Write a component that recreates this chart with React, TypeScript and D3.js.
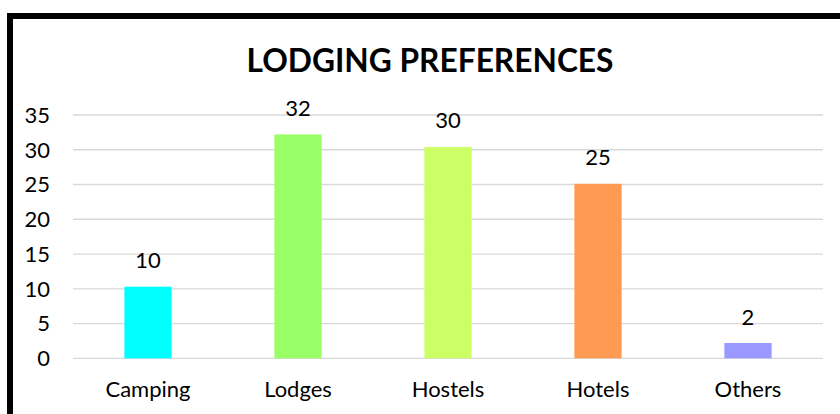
import React from "react";
import * as d3 from "d3";

const categories = ["Camping", "Lodges", "Hostels", "Hotels", "Others"];
const values = [10.3, 32.2, 30.4, 25.1, 2.2];
const labels = ["10", "32", "30", "25", "2"];
const colors = ["#00FFFF", "#99FF66", "#CCFF66", "#FF9A52", "#9999FF"];
const yTicks = [0, 5, 10, 15, 20, 25, 30, 35];
const title = "LODGING PREFERENCES";

const W = 840;
const H = 414;
const FONT = "Lato, 'Open Sans', sans-serif";

export default function App() {
  const x = d3.scaleBand<string>().domain(categories).range([73, 823]).paddingInner(0.685).paddingOuter(0.3425);
  const y = d3.scaleLinear().domain([0, 35]).range([358.3, 115]);

  return (
    <svg width={W} height={H} style={{ position: "absolute", left: 0, top: 0, background: "#fff" }}>
      <rect x={0} y={0} width={W} height={H} fill="#fff" />
      <rect x={10} y={16} width={W + 20} height={H + 20} fill="none" stroke="#000" strokeWidth={6} />
      <text x={430} y={72} textAnchor="middle" fontFamily={FONT} fontWeight="bold" fontSize={33} fill="#000"
        textLength={367} lengthAdjust="spacingAndGlyphs">{title}</text>
      {yTicks.map((t) => (
        <g key={t}>
          <line x1={73} x2={823} y1={y(t)} y2={y(t)} stroke="#d9d9d9" strokeWidth={1.3} />
          <text x={50} y={y(t)} dy="0.36em" textAnchor="end" fontFamily={FONT} fontSize={22} fill="#000">{t}</text>
        </g>
      ))}
      {categories.map((c, i) => (
        <g key={c}>
          <rect x={x(c)} y={y(values[i])} width={x.bandwidth()} height={y(0) - y(values[i])} fill={colors[i]} />
          <text x={(x(c) as number) + x.bandwidth() / 2} y={y(values[i]) - 18.5} textAnchor="middle" fontFamily={FONT} fontSize={22} fill="#000">{labels[i]}</text>
          <text x={(x(c) as number) + x.bandwidth() / 2} y={396.7} textAnchor="middle" fontFamily={FONT} fontSize={22} fill="#000">{c}</text>
        </g>
      ))}
    </svg>
  );
}
